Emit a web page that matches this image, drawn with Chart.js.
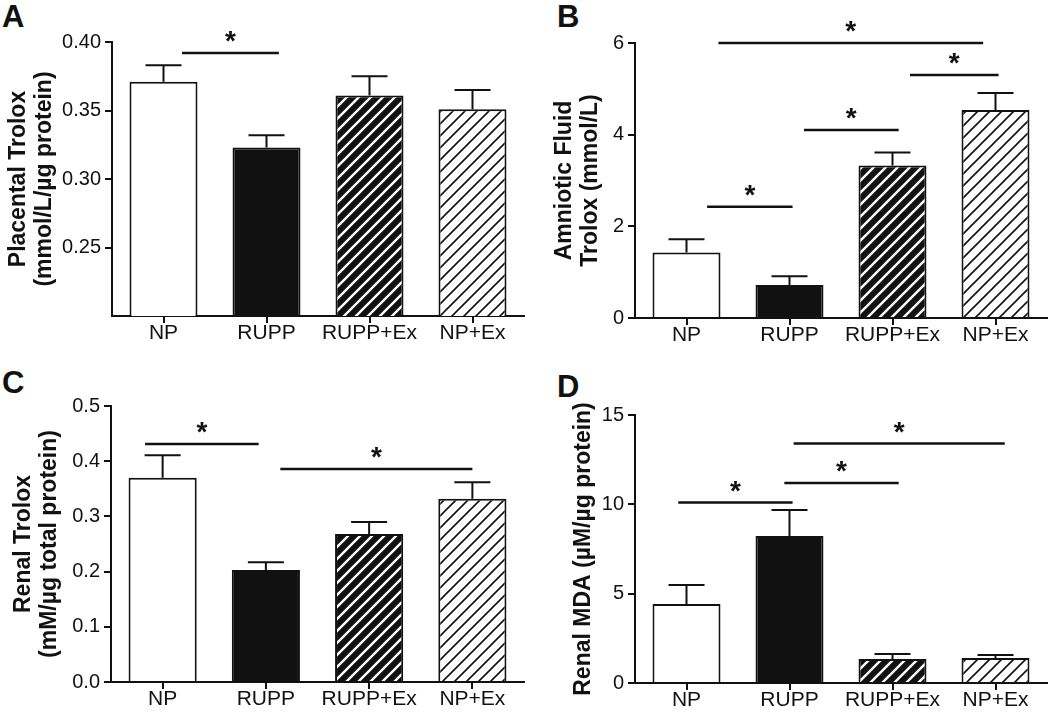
<!DOCTYPE html>
<html>
<head>
<meta charset="utf-8">
<script src="https://cdn.jsdelivr.net/npm/chart.js@4.4.1/dist/chart.umd.min.js"></script>
<style>
  body { margin: 0; background: #fff; width: 1050px; height: 712px; position: relative; overflow: hidden; }
  canvas { position: absolute; }
  .letter { position: absolute; font: bold 31px 'Liberation Sans', Arial, sans-serif; line-height: 31px; color: #111; }
</style>
</head>
<body>
<div class="letter" style="left:2px;top:1px">A</div>
<div class="letter" style="left:557px;top:1px">B</div>
<div class="letter" style="left:2px;top:367px">C</div>
<div class="letter" style="left:557px;top:371px">D</div>

<canvas id="chartA" width="525" height="356" style="left:0;top:0"></canvas>
<canvas id="chartB" width="525" height="356" style="left:525px;top:0"></canvas>
<canvas id="chartC" width="525" height="356" style="left:0;top:356px"></canvas>
<canvas id="chartD" width="525" height="356" style="left:525px;top:356px"></canvas>

<script>
const groups = ['NP', 'RUPP', 'RUPP+Ex', 'NP+Ex'];

// A - плацента
const placentalTrolox = [0.371, 0.323, 0.361, 0.351];
const placentalTroloxSem = [0.012, 0.009, 0.014, 0.014];
const placentalTicks = [0.25, 0.30, 0.35, 0.40];
const placentalSig = [[0.18, 1.12, 0.392]];

// B - амниотическая жидкость
const amnioticTrolox = [1.43, 0.72, 3.33, 4.54];
const amnioticTroloxSem = [0.29, 0.19, 0.28, 0.37];
const amnioticTicks = [0, 2, 4, 6];
const amnioticSig = [[0.31, 2.88, 6.0], [2.17, 3.03, 5.3], [1.14, 2.06, 4.1], [0.20, 1.03, 2.43]];

// C - почки, тролокс
const renalTrolox = [0.370, 0.203, 0.268, 0.332];
const renalTroloxSem = [0.041, 0.014, 0.022, 0.030];
const renalTicks = [0.0, 0.1, 0.2, 0.3, 0.4, 0.5];
const renalSig = [[-0.17, 0.93, 0.431], [1.14, 3.0, 0.386]];

// D - почки, MDA
const renalMda = [4.42, 8.23, 1.34, 1.40];
const renalMdaSem = [1.06, 1.45, 0.28, 0.17];
const mdaTicks = [0, 5, 10, 15];
const mdaSig = [[-0.08, 1.03, 10.1], [0.95, 2.06, 11.2], [1.04, 3.09, 13.4]];

const INK = '#111';
const FONT = "'Liberation Sans', Arial, sans-serif";

function stripes(bg, fg, lw) {
  const p = document.createElement('canvas');
  p.width = p.height = 12;
  const c = p.getContext('2d');
  c.fillStyle = bg;
  c.fillRect(0, 0, 12, 12);
  c.strokeStyle = fg;
  c.lineWidth = lw;
  c.beginPath();
  c.moveTo(-1, 13); c.lineTo(13, -1);
  c.moveTo(-7, 7); c.lineTo(7, -7);
  c.moveTo(5, 19); c.lineTo(19, 5);
  c.stroke();
  return c.createPattern(p, 'repeat');
}

const darkHatch = stripes(INK, '#fff', 2.4);
const lightHatch = stripes('#fff', INK, 1.6);

// усы ошибок и звёздочки
function extras(sem, sig) {
  return {
    id: 'extras',
    afterDatasetsDraw(chart) {
      const ctx = chart.ctx;
      const x = chart.scales.x;
      const y = chart.scales.y;
      const data = chart.data.datasets[0].data;
      ctx.save();
      ctx.strokeStyle = INK;
      ctx.lineWidth = 2;
      chart.getDatasetMeta(0).data.forEach((bar, i) => {
        const top = y.getPixelForValue(data[i]);
        const errTop = y.getPixelForValue(data[i] + sem[i]);
        ctx.beginPath();
        ctx.moveTo(bar.x, top);
        ctx.lineTo(bar.x, errTop);
        ctx.moveTo(bar.x - 18, errTop);
        ctx.lineTo(bar.x + 18, errTop);
        ctx.stroke();
      });

      const x0 = x.getPixelForValue(0);
      const step = x.getPixelForValue(1) - x0;
      ctx.lineWidth = 2.5;
      ctx.fillStyle = INK;
      ctx.font = `bold 28px ${FONT}`;
      ctx.textAlign = 'center';
      ctx.textBaseline = 'alphabetic';
      sig.forEach(([from, to, level]) => {
        const ly = y.getPixelForValue(level);
        const a = x0 + from * step;
        const b = x0 + to * step;
        ctx.beginPath();
        ctx.moveTo(a, ly);
        ctx.lineTo(b, ly);
        ctx.stroke();
        ctx.fillText('*', (a + b) / 2, ly - 3);
      });
      ctx.restore();
    },
  };
}

function createPanel(id, values, sem, ticks, sig, o) {
  const canvas = document.getElementById(id);
  const H = canvas.height;
  const W = canvas.width;
  const area = o.area;

  return new Chart(canvas.getContext('2d'), {
    type: 'bar',
    data: {
      labels: groups,
      datasets: [{
        data: values,
        base: o.min,
        backgroundColor: ['#fff', INK, darkHatch, lightHatch],
        borderColor: INK,
        borderWidth: 2,
        barPercentage: 0.66,
        categoryPercentage: 1,
      }],
    },
    options: {
      responsive: false,
      animation: false,
      layout: { padding: { left: 0, top: area.top, right: W - area.right, bottom: 0 } },
      plugins: { legend: { display: false }, tooltip: { enabled: false } },
      scales: {
        x: {
          offset: true,
          grid: { display: true, offset: false, drawOnChartArea: false, drawTicks: true, tickLength: 7, color: INK, lineWidth: 2 },
          border: { display: true, color: INK, width: 2 },
          ticks: { color: INK, font: { family: FONT, size: 21 }, padding: -2, maxRotation: 0, autoSkip: false },
          afterFit: s => { s.height = H - area.bottom; },
        },
        y: {
          min: o.min,
          max: o.max,
          afterBuildTicks: s => { s.ticks = ticks.filter(v => v > o.min || o.showMin).map(v => ({ value: v })); },
          grid: { display: true, drawOnChartArea: false, drawTicks: true, tickLength: 7, color: INK, lineWidth: 2 },
          border: { display: true, color: INK, width: 2 },
          ticks: {
            color: INK,
            font: { family: FONT, size: 20 },
            padding: 4,
            callback: v => Number(v).toFixed(o.decimals),
          },
          title: {
            display: true,
            text: o.title,
            color: INK,
            font: { family: FONT, size: 23, weight: 'bold', lineHeight: 1.15 },
            padding: { top: o.titlePad, bottom: 0 },
          },
          afterFit: s => { s.width = area.left; },
        },
      },
    },
    plugins: [extras(sem, sig)],
  });
}

createPanel('chartA', placentalTrolox, placentalTroloxSem, placentalTicks, placentalSig, {
  min: 0.2, max: 0.4, decimals: 2, showMin: false,
  title: ['Placental Trolox', '(mmol/L/µg protein)'], titlePad: 5,
  area: { left: 112, top: 42, right: 524, bottom: 316 },
});

createPanel('chartB', amnioticTrolox, amnioticTroloxSem, amnioticTicks, amnioticSig, {
  min: 0, max: 6, decimals: 0, showMin: true,
  title: ['Amniotic Fluid', 'Trolox (mmol/L)'], titlePad: 26,
  area: { left: 110, top: 43, right: 522, bottom: 318 },
});

createPanel('chartC', renalTrolox, renalTroloxSem, renalTicks, renalSig, {
  min: 0, max: 0.5, decimals: 1, showMin: true,
  title: ['Renal Trolox', '(mM/µg total protein)'], titlePad: 10,
  area: { left: 111, top: 50, right: 524, bottom: 326 },
});

createPanel('chartD', renalMda, renalMdaSem, mdaTicks, mdaSig, {
  min: 0, max: 15, decimals: 0, showMin: true,
  title: 'Renal MDA (µM/µg protein)', titlePad: 45,
  area: { left: 110, top: 59, right: 522, bottom: 327 },
});
</script>
</body>
</html>
